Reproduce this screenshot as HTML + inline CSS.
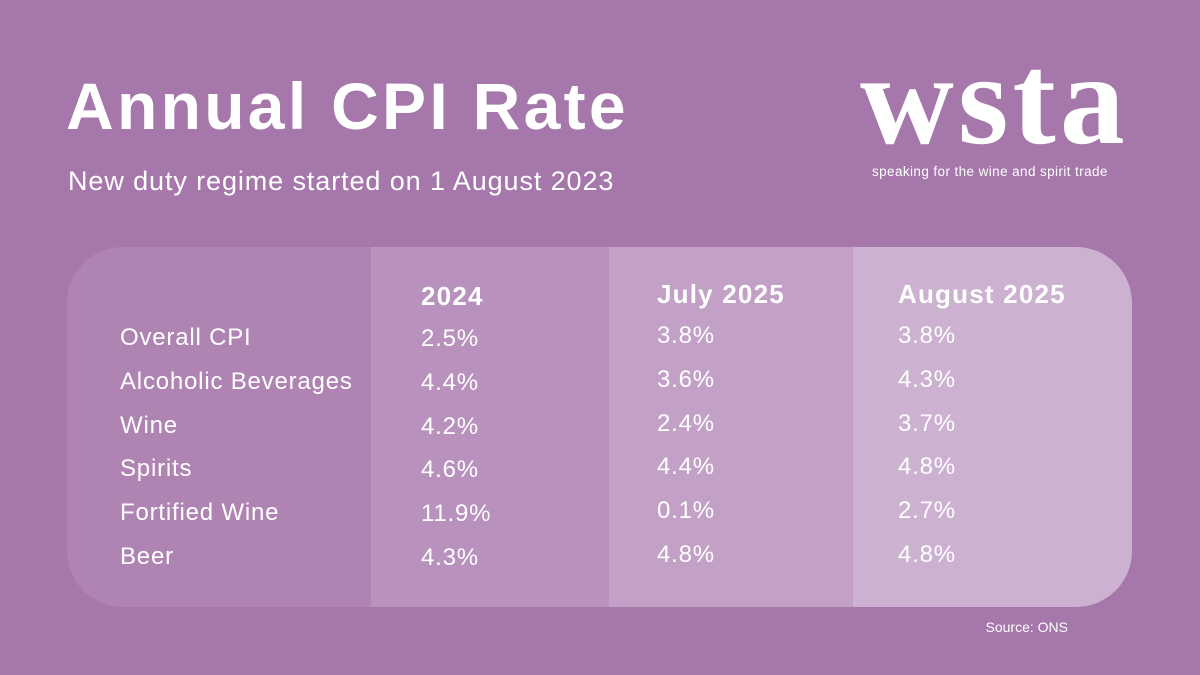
<!DOCTYPE html>
<html><head><meta charset="utf-8"><style>
body{margin:0;width:1200px;height:675px;background:#a577ab;font-family:"Liberation Sans",Arial,Helvetica,sans-serif;color:#fff;position:relative;overflow:hidden}
.a{position:absolute;white-space:nowrap;font-family:"Liberation Sans",Arial,Helvetica,sans-serif}
#panel{position:absolute;left:67px;top:247px;width:1065px;height:360px;border-radius:56px;background:#af84b3;overflow:hidden}
.col{position:absolute;top:0;height:360px}
.row{font-size:24px;line-height:24px;letter-spacing:0.8px}
.hd{font-size:26px;font-weight:bold;letter-spacing:1.2px}
</style></head><body>
<div class="a" style="left:66px;top:68px;font-size:66px;font-weight:bold;letter-spacing:3.3px">Annual CPI Rate</div>
<div class="a" style="left:68px;top:166px;font-size:27px;letter-spacing:0.9px">New duty regime started on 1 August 2023</div>
<div class="a" style="left:860px;top:35px;font-family:'Liberation Serif',serif;font-weight:bold;font-size:130px;letter-spacing:4px;line-height:130px">wsta</div>
<div class="a" style="left:872px;top:164px;font-size:13.5px;letter-spacing:0.4px">speaking for the wine and spirit trade</div>
<div id="panel">
<div class="col" style="left:304px;width:238px;background:#b891bd"></div>
<div class="col" style="left:542px;width:244px;background:#c3a1c7"></div>
<div class="col" style="left:786px;width:279px;background:#ccb1d1"></div>
</div>
<div id="cells"></div>
<div class="a" style="right:132px;top:619px;font-size:14px">Source: ONS</div>
<script>
const categories=["Overall CPI","Alcoholic Beverages","Wine","Spirits","Fortified Wine","Beer"];
const headers=["2024","July 2025","August 2025"];
const v2024=["2.5%","4.4%","4.2%","4.6%","11.9%","4.3%"];
const vJuly=["3.8%","3.6%","2.4%","4.4%","0.1%","4.8%"];
const vAug=["3.8%","4.3%","3.7%","4.8%","2.7%","4.8%"];
const c=document.getElementById('cells');
function add(txt,x,cy,cls,name){const d=document.createElement('div');d.className='a '+cls;d.textContent=txt;d.style.left=x+'px';d.style.top=(cy-14)+'px';


c.appendChild(d);}
const colX=[421,657,898],hy=[294,292,292],off=[1,-2,-2];
headers.forEach((h,i)=>add(h,colX[i],hy[i]+1,'hd','header-'+i));
const series=[v2024,vJuly,vAug];
categories.forEach((cat,r)=>{const cy=339+r*43.8;add(cat,120,cy+1,'row','row-label-'+r);
series.forEach((s,i)=>add(s[r],colX[i],cy+off[i]+1,'row','value-'+i+'-'+r));});
</script>
</body></html>
